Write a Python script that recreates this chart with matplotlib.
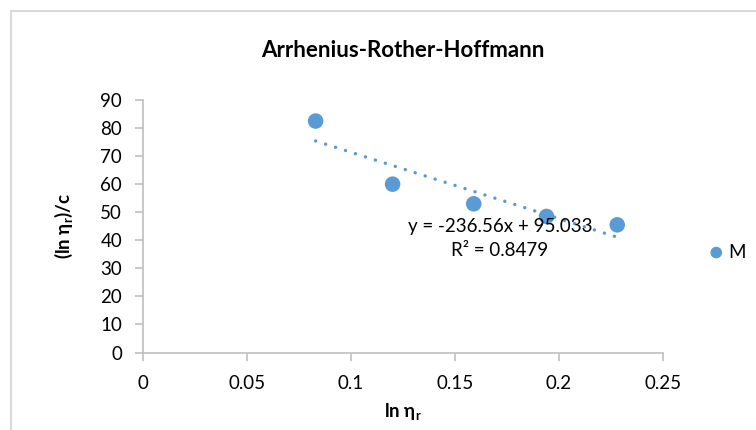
import numpy as np
import matplotlib.pyplot as plt
from matplotlib.patches import Rectangle

plt.rcParams['font.family'] = ['Lato', 'DejaVu Sans']

# data
ln_eta = [0.083, 0.12, 0.159, 0.194, 0.228]
ln_eta_over_c = [82.5, 60.0, 53.0, 48.5, 45.5]
slope = -236.56
intercept = 95.033
r_squared = 0.8479
x_ticks = [0, 0.05, 0.1, 0.15, 0.2, 0.25]
x_tick_labels = ['0', '0.05', '0.1', '0.15', '0.2', '0.25']
y_ticks = [0, 10, 20, 30, 40, 50, 60, 70, 80, 90]

blue = '#5B9BD5'
grey = '#BFBFBF'

fig = plt.figure(figsize=(7.56, 4.30), dpi=100)
ax = fig.add_axes([143 / 756, 1 - 352.5 / 430, 520 / 756, 252.5 / 430])

# chart border (extends past right/bottom edge like the screenshot)
fig.patches.append(Rectangle((11 / 756, -0.1), 1.2, 1 - 11 / 430 + 0.1,
                             transform=fig.transFigure, fill=False,
                             edgecolor='#D9D9D9', linewidth=1.5))

sc = ax.scatter(ln_eta, ln_eta_over_c, s=125, color=blue, zorder=3, label='M',
                edgecolors='none')

xs = np.array([min(ln_eta), max(ln_eta)])
ax.plot(xs, slope * xs + intercept, color=blue, linewidth=2.5,
        linestyle=(0, (0.01, 3.0)), dash_capstyle='round', zorder=2)

ax.text(0.1716, 40.6, 'y = %.2fx + %.3f\nR² = %.4f' % (slope, intercept, r_squared),
        ha='center', va='center', fontsize=13.5, linespacing=1.55, color='#000000')

ax.set_xlim(0, 0.25)
ax.set_ylim(0, 90)
ax.set_xticks(x_ticks)
ax.set_xticklabels(x_tick_labels)
ax.set_yticks(y_ticks)

for s in ['top', 'right']:
    ax.spines[s].set_visible(False)
for s in ['left', 'bottom']:
    ax.spines[s].set_color(grey)
    ax.spines[s].set_linewidth(1.2)
ax.tick_params(axis='both', colors=grey, length=6, width=1.2, labelsize=13.5,
               labelcolor='#000000')
ax.tick_params(axis='x', pad=10)
ax.tick_params(axis='y', pad=9)

ax.set_title('Arrhenius-Rother-Hoffmann', fontsize=16, fontweight='bold', pad=31)
ax.set_xlabel(r'ln η$_\mathregular{r}$', fontsize=13.5, fontweight='bold', labelpad=7)
ax.set_ylabel(r'(ln η$_\mathregular{r}$)/c', fontsize=13.5, fontweight='bold', labelpad=18)

fig.legend(handles=[sc], labels=['M'], loc='center left',
           bbox_to_anchor=(690 / 756, 1 - 252 / 430), frameon=False,
           fontsize=13.5, handletextpad=0.15, markerscale=0.75, handlelength=1.0)

fig.savefig('out.png', dpi=100)
